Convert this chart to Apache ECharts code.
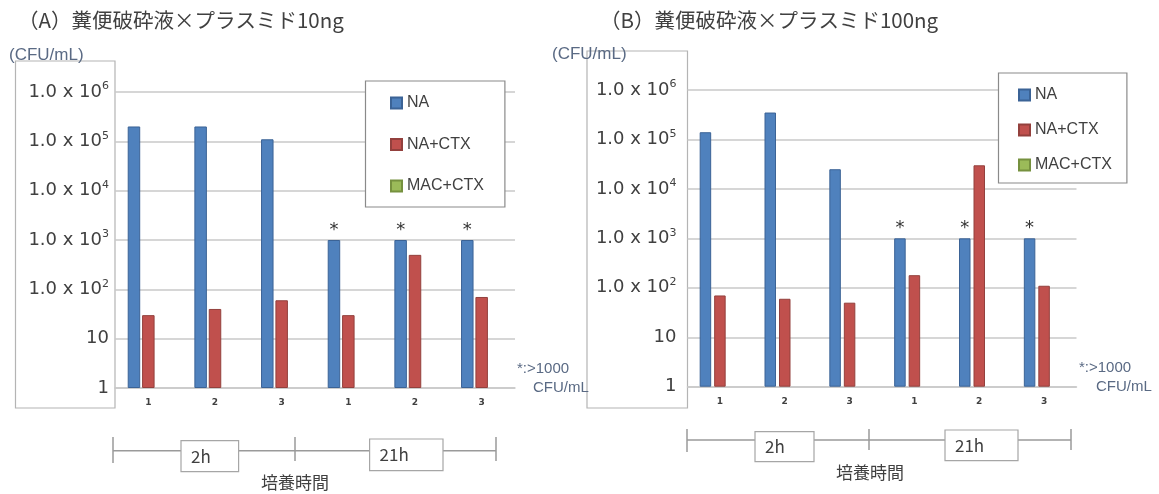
<!DOCTYPE html>
<html><head><meta charset="utf-8">
<script src="https://cdn.jsdelivr.net/npm/echarts@6/dist/echarts.min.js"></script>
<style>html,body{margin:0;padding:0;background:#fff}#c{width:1159px;height:494px}</style>
</head><body><div id="c"></div>
<script>
// ---- data ----
const categories = ['1', '2', '3', '1', '2', '3'];
const groupLabels = ['2h', '21h'];
const xAxisTitle = '培養時間';
const seriesNames = ['NA', 'NA+CTX', 'MAC+CTX'];
const titleA = '（A）糞便破砕液×プラスミド10ng';
const titleB = '（B）糞便破砕液×プラスミド100ng';
const unitLabel = '(CFU/mL)';
const noteLine1 = '*:>1000';
const noteLine2 = 'CFU/mL';
const naA = [200000, 200000, 110000, 1000, 1000, 1000];
const naCtxA = [30, 40, 60, 30, 500, 70];
const macCtxA = [null, null, null, null, null, null];
const naB = [140000, 350000, 25000, 1000, 1000, 1000];
const naCtxB = [70, 60, 50, 180, 30000, 110];
const macCtxB = [null, null, null, null, null, null];
const overLimit = [false, false, false, true, true, true];
const yTickMain = ['1', '10', '1.0 x 10', '1.0 x 10', '1.0 x 10', '1.0 x 10', '1.0 x 10'];
const yTickSup = ['', '', '2', '3', '4', '5', '6'];

// ---- styles ----
const colors = ['#4f81bd', '#c0504d', '#9bbb59'];
const borders = ['#3b6396', '#93403d', '#76913f'];
const txt = '#404040';
const unitColor = '#5a6a84';

const chart = echarts.init(document.getElementById('c'));

function yLabelFmt(v) {
  const i = Math.round(Math.log10(v));
  return yTickSup[i] ? '{m|' + yTickMain[i] + '}{s|' + yTickSup[i] + '}' : '{m|' + yTickMain[i] + '}';
}
const yRich = {
  m: { fontSize: 18, fontFamily: 'DejaVu Sans', color: txt, lineHeight: 22 },
  s: { fontSize: 11, fontFamily: 'DejaVu Sans', color: txt, lineHeight: 14, verticalAlign: 'top' }
};

function yAxisCfg(gi, margin) {
  return {
    type: 'log', logBase: 10, min: 1, max: 1000000, gridIndex: gi,
    axisLine: { show: false }, axisTick: { show: false },
    axisLabel: { formatter: yLabelFmt, rich: yRich, margin: margin },
    splitLine: { lineStyle: { color: '#c9c9c9', width: 1.5 } }
  };
}
function xAxisCfg(gi) {
  return {
    type: 'category', data: categories, gridIndex: gi,
    axisLine: { lineStyle: { color: '#c9c9c9', width: 1.5 } },
    axisTick: { show: false },
    axisLabel: { fontSize: 9, fontWeight: 'bold', color: txt, margin: 10, fontFamily: 'DejaVu Sans' }
  };
}
function makeSeries(gi, arrs, bw, gap) {
  return arrs.map((arr, k) => ({
    name: seriesNames[k], type: 'bar', xAxisIndex: gi, yAxisIndex: gi,
    barWidth: bw, barGap: gap,
    itemStyle: { color: colors[k], borderColor: borders[k], borderWidth: 1 },
    label: { show: false, position: 'top', formatter: '*', fontSize: 18, color: '#333', distance: 1, fontFamily: 'DejaVu Sans' },
    data: arr.map((v, i) => (k === 0 && overLimit[i]) ? { value: v, label: { show: true } } : v)
  }));
}
function legendCfg(left, top, gap, padding) {
  return {
    data: seriesNames, orient: 'vertical', left: left, top: top,
    itemGap: gap, itemWidth: 11, itemHeight: 11, icon: 'rect',
    padding: padding, borderColor: '#8a8a8a', borderWidth: 1.2, backgroundColor: '#fff',
    selectedMode: false,
    textStyle: { fontSize: 16, color: txt, fontFamily: 'Liberation Sans' }
  };
}
function bracket(y, x0, xm, x1, t0, t1) {
  const ls = { stroke: '#9a9a9a', lineWidth: 1.5 };
  return [
    { type: 'line', shape: { x1: x0, y1: y, x2: x1, y2: y }, style: ls },
    { type: 'line', shape: { x1: x0, y1: t0, x2: x0, y2: t1 }, style: ls },
    { type: 'line', shape: { x1: xm, y1: t0, x2: xm, y2: t1 - 2 }, style: ls },
    { type: 'line', shape: { x1: x1, y1: t0, x2: x1, y2: t1 - 2 }, style: ls }
  ];
}
function labelBox(x, y, w, h, text) {
  return [
    { type: 'rect', shape: { x: x, y: y, width: w, height: h }, style: { fill: '#fff', stroke: '#a6a6a6', lineWidth: 1.2 } },
    { type: 'text', x: x + 10, y: y + h / 2, style: { text: text, fill: txt, font: '17px "Noto Sans CJK JP"', textVerticalAlign: 'middle' } }
  ];
}
function plainText(x, y, text, font, color, align) {
  return { type: 'text', x: x, y: y, style: { text: text, fill: color, font: font, textVerticalAlign: 'middle', textAlign: align || 'left' } };
}

const graphics = [
  // y label boxes
  { type: 'rect', z: 0, shape: { x: 15.5, y: 61, width: 99.5, height: 347 }, style: { fill: 'none', stroke: '#b4b4b4', lineWidth: 1.2 } },
  { type: 'rect', z: 0, shape: { x: 587, y: 51, width: 100.5, height: 357 }, style: { fill: 'none', stroke: '#b4b4b4', lineWidth: 1.2 } },
  plainText(9, 55, unitLabel, '17px "Liberation Sans"', unitColor),
  plainText(552, 54, unitLabel, '17px "Liberation Sans"', unitColor),
  // titles
  plainText(18, 20, titleA, '20.5px "Noto Sans CJK JP"', txt),
  plainText(600, 20, titleB, '20.5px "Noto Sans CJK JP"', txt),
  // notes
  plainText(517, 369, noteLine1, '15px "Liberation Sans"', unitColor),
  plainText(533, 388, noteLine2, '15px "Liberation Sans"', unitColor),
  plainText(1079, 368, noteLine1, '15px "Liberation Sans"', unitColor),
  plainText(1096, 387, noteLine2, '15px "Liberation Sans"', unitColor),
  // brackets A
  ...bracket(450.7, 113, 295, 496, 437, 463),
  ...labelBox(181, 440.7, 57.6, 31, groupLabels[0]),
  ...labelBox(369.6, 439, 73.4, 31.7, groupLabels[1]),
  plainText(295, 483, xAxisTitle, '17px "Noto Sans CJK JP"', txt, 'center'),
  // brackets B
  ...bracket(440, 687, 869, 1071, 429, 452),
  ...labelBox(755, 431.7, 59, 30, groupLabels[0]),
  ...labelBox(945, 430, 73, 30.7, groupLabels[1]),
  plainText(870, 472.7, xAxisTitle, '17px "Noto Sans CJK JP"', txt, 'center')
];

chart.setOption({
  animation: false,
  backgroundColor: '#fff',
  grid: [
    { left: 115, top: 92, width: 400, height: 296 },
    { left: 687.5, top: 90, width: 389, height: 296.7 }
  ],
  xAxis: [xAxisCfg(0), xAxisCfg(1)],
  yAxis: [yAxisCfg(0, 6), yAxisCfg(1, 11)],
  legend: [
    legendCfg(365.5, 81, 25.5, [14, 21, 13, 24.5]),
    legendCfg(998.5, 73, 19, [14, 15, 10, 19.5])
  ],
  series: [
    ...makeSeries(0, [naA, naCtxA, macCtxA], 12.5, '15%'),
    ...makeSeries(1, [naB, naCtxB, macCtxB], 11.5, '26%')
  ],
  graphic: graphics
});
</script></body></html>
